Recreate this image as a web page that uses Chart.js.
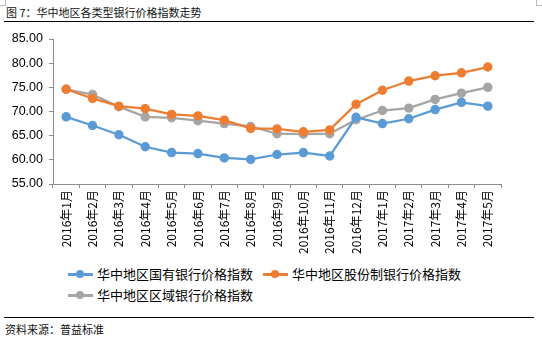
<!DOCTYPE html>
<html>
<head>
<meta charset="utf-8">
<script src="https://cdn.jsdelivr.net/npm/chart.js@4"></script>
<style>
  html, body { margin:0; padding:0; background:#fff; }
  body { width:542px; height:346px; position:relative; overflow:hidden; font-family:"Noto Sans CJK SC", sans-serif; }
  #title { position:absolute; left:6px; top:3px; font-size:11px; line-height:18px; color:#111; white-space:nowrap; }
  .rule { position:absolute; left:4px; width:530px; height:0; border-top:1.5px solid #000; }
  #source { position:absolute; left:5px; top:320px; font-size:11px; line-height:18px; color:#111; white-space:nowrap; }
  #chart { position:absolute; left:0; top:0; }
  .leg { position:absolute; font-size:13px; line-height:18px; color:#000; white-space:nowrap; display:flex; align-items:center; }
  .mk { position:relative; width:25px; height:10px; margin-right:4px; }
  .mk .ln { position:absolute; left:0; right:0; top:4px; height:2.5px; }
  .mk .dt { position:absolute; left:8px; top:1px; width:8px; height:8px; border-radius:50%; }
  .corner { position:absolute; width:5px; height:5px; border-color:#bbb; border-style:solid; }
</style>
</head>
<body>
<div class="corner" style="left:0;top:0;border-width:0 1px 1px 0;"></div>
<div class="corner" style="right:0;top:0;border-width:0 0 1px 1px;"></div>
<div id="title">图 7：华中地区各类型银行价格指数走势</div>
<div class="rule" style="top:21px;"></div>
<canvas id="chart" width="542" height="262"></canvas>
<div class="leg" style="left:68px;top:265px;"><span class="mk"><span class="ln" style="background:#5B9BD5"></span><span class="dt" style="background:#5B9BD5"></span></span><span id="l0"></span></div>
<div class="leg" style="left:263px;top:265px;"><span class="mk"><span class="ln" style="background:#ED7D31"></span><span class="dt" style="background:#ED7D31"></span></span><span id="l1"></span></div>
<div class="leg" style="left:68px;top:286px;"><span class="mk"><span class="ln" style="background:#A5A5A5"></span><span class="dt" style="background:#A5A5A5"></span></span><span id="l2"></span></div>
<div class="rule" style="top:317px;"></div>
<div id="source">资料来源：普益标准</div>
<script>
const categories = ["2016年1月","2016年2月","2016年3月","2016年4月","2016年5月","2016年6月","2016年7月","2016年8月","2016年9月","2016年10月","2016年11月","2016年12月","2017年1月","2017年2月","2017年3月","2017年4月","2017年5月"];
const seriesNames = ["华中地区国有银行价格指数","华中地区股份制银行价格指数","华中地区区域银行价格指数"];
const stateOwned = [68.9, 67.1, 65.2, 62.7, 61.5, 61.3, 60.4, 60.1, 61.1, 61.5, 60.8, 68.8, 67.5, 68.5, 70.4, 71.9, 71.1];
const jointStock = [74.6, 72.7, 71.1, 70.6, 69.4, 69.1, 68.2, 66.5, 66.4, 65.8, 66.2, 71.5, 74.4, 76.3, 77.4, 78.0, 79.2];
const regional   = [74.6, 73.5, 71.0, 68.9, 68.7, 68.1, 67.5, 66.9, 65.4, 65.3, 65.4, 68.3, 70.2, 70.7, 72.5, 73.8, 75.0];
const yTicks = [55, 60, 65, 70, 75, 80, 85];
const colors = ["#5B9BD5", "#ED7D31", "#A5A5A5"];

document.getElementById('l0').textContent = seriesNames[0];
document.getElementById('l1').textContent = seriesNames[1];
document.getElementById('l2').textContent = seriesNames[2];

const mk = (label, data, c) => ({
  label, data, borderColor: c, backgroundColor: c,
  borderWidth: 2.25, pointRadius: 3.6, pointHoverRadius: 3.6,
  pointBackgroundColor: c, pointBorderColor: c, tension: 0
});

new Chart(document.getElementById('chart'), {
  type: 'line',
  data: {
    labels: categories,
    datasets: [mk(seriesNames[0], stateOwned, colors[0]), mk(seriesNames[1], jointStock, colors[1]), mk(seriesNames[2], regional, colors[2])]
  },
  options: {
    responsive: false, animation: false,
    layout: { padding: { top: 39, right: 41, left: 0, bottom: 0 } },
    plugins: { legend: { display: false }, tooltip: { enabled: false } },
    scales: {
      x: {
        offset: true,
        grid: { display: true, drawOnChartArea: false, drawTicks: true, tickLength: 4, offset: true, color: '#8c8c8c' },
        border: { display: true, color: '#8c8c8c', width: 1 },
        ticks: { minRotation: 90, maxRotation: 90, autoSkip: false, color: '#000', padding: 2,
                 font: { family: "'Noto Sans CJK SC', sans-serif", size: 12 } },
        afterFit: s => { s.height = 262 - 184; }
      },
      y: {
        min: 55, max: 85,
        afterBuildTicks: s => { s.ticks = yTicks.map(v => ({ value: v })); },
        grid: { display: true, drawOnChartArea: false, drawTicks: true, tickLength: 4, color: '#8c8c8c' },
        border: { display: true, color: '#8c8c8c', width: 1 },
        ticks: { color: '#000', padding: 6, callback: v => Number(v).toFixed(2),
                 font: { family: "'Liberation Sans', Arial, sans-serif", size: 12.5 } },
        afterFit: s => { s.width = 53; }
      }
    }
  }
});
</script>
</body>
</html>
